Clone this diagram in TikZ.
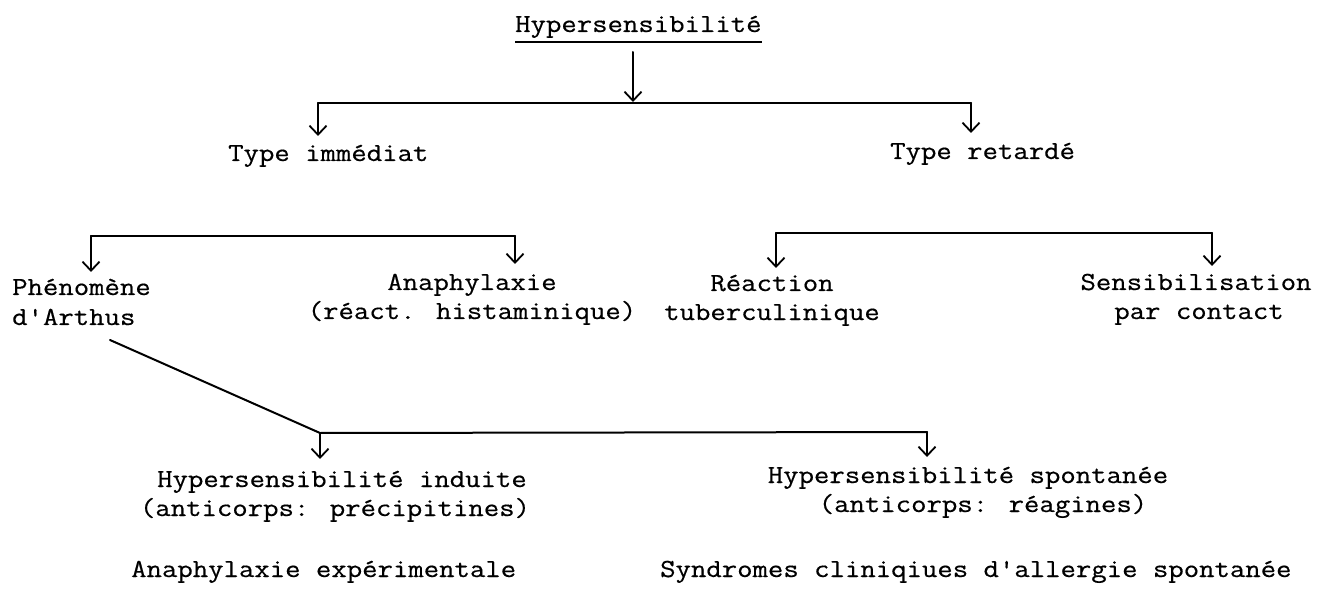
\documentclass[tikz,border=0pt]{standalone}
\usepackage{fontspec}
\newfontfamily\typew[FakeBold=0.5,FakeStretch=1.15]{Latin Modern Mono}
\usetikzlibrary{arrows.meta}
\begin{document}
\begin{tikzpicture}[x=1pt,y=-1pt,
  txt/.style={inner sep=0pt,font=\typew\fontsize{26}{30}\selectfont},
  link/.style={line width=2pt,line cap=round,line join=miter},
  arr/.style={link,-{Straight Barb[length=9pt,width=17pt,line width=1.8pt]}}]
\useasboundingbox (0,0) rectangle (1319,593);
% texts
\node[txt,anchor=base west] (hyp) at (515,32) {Hypersensibilité};
\node[txt,anchor=base west] (imm) at (228,161) {Type immédiat};
\node[txt,anchor=base west] (ret) at (890,159) {Type retardé};
\node[txt,anchor=base west] (phen1) at (12,295) {Phénomène};
\node[txt,anchor=base west] (phen2) at (12,325) {d'Arthus};
\node[txt,anchor=base] (ana1) at (472,290) {Anaphylaxie};
\node[txt,anchor=base] (ana2) at (472,319) {(réact. histaminique)};
\node[txt,anchor=base] (rea1) at (772,291) {Réaction};
\node[txt,anchor=base] (rea2) at (772,320) {tuberculinique};
\node[txt,anchor=base] (sen1) at (1196,290) {Sensibilisation};
\node[txt,anchor=base] (sen2) at (1199,319) {par contact};
\node[txt,anchor=base] (ind1) at (342,487) {Hypersensibilité induite};
\node[txt,anchor=base] (ind2) at (335,516) {(anticorps: précipitines)};
\node[txt,anchor=base] (spo1) at (968,483) {Hypersensibilité spontanée};
\node[txt,anchor=base] (spo2) at (983,512) {(anticorps: réagines)};
\node[txt,anchor=base west] (exp) at (131,577) {Anaphylaxie expérimentale};
\node[txt,anchor=base west] (syn) at (660,577) {Syndromes cliniqiues d'allergie spontanée};
% underline
\draw[line width=1.8pt] ([yshift=-10pt]hyp.base west) -- ([yshift=-10pt]hyp.base east);
% junction coordinates
\coordinate (s0) at (633,52);
\coordinate (j0) at (633,102);
\coordinate (b1l) at (318,103);
\coordinate (b1r) at (971,103);
\coordinate (t1l) at (318,136);
\coordinate (t1r) at (971,133);
\coordinate (b2l) at (91,236);
\coordinate (b2r) at (515,236);
\coordinate (t2l) at (91,272);
\coordinate (t2r) at (515,264);
\coordinate (b3l) at (776,233);
\coordinate (b3r) at (1212,233);
\coordinate (t3l) at (776,268);
\coordinate (t3r) at (1212,266);
\coordinate (d0) at (110,340);
\coordinate (b4l) at (320,433);
\coordinate (b4r) at (927,432);
\coordinate (t4l) at (320,459);
\coordinate (t4r) at (927,457);
% connectors
\draw[arr] (s0) -- (j0);
\draw[link] (b1l) -- (b1r);
\draw[arr] (b1l) -- (t1l);
\draw[arr] (b1r) -- (t1r);
\draw[link] (b2l) -- (b2r);
\draw[arr] (b2l) -- (t2l);
\draw[arr] (b2r) -- (t2r);
\draw[link] (b3l) -- (b3r);
\draw[arr] (b3l) -- (t3l);
\draw[arr] (b3r) -- (t3r);
\draw[link] (d0) -- (b4l) -- (b4r);
\draw[arr] (b4l) -- (t4l);
\draw[arr] (b4r) -- (t4r);
\end{tikzpicture}
\end{document}
